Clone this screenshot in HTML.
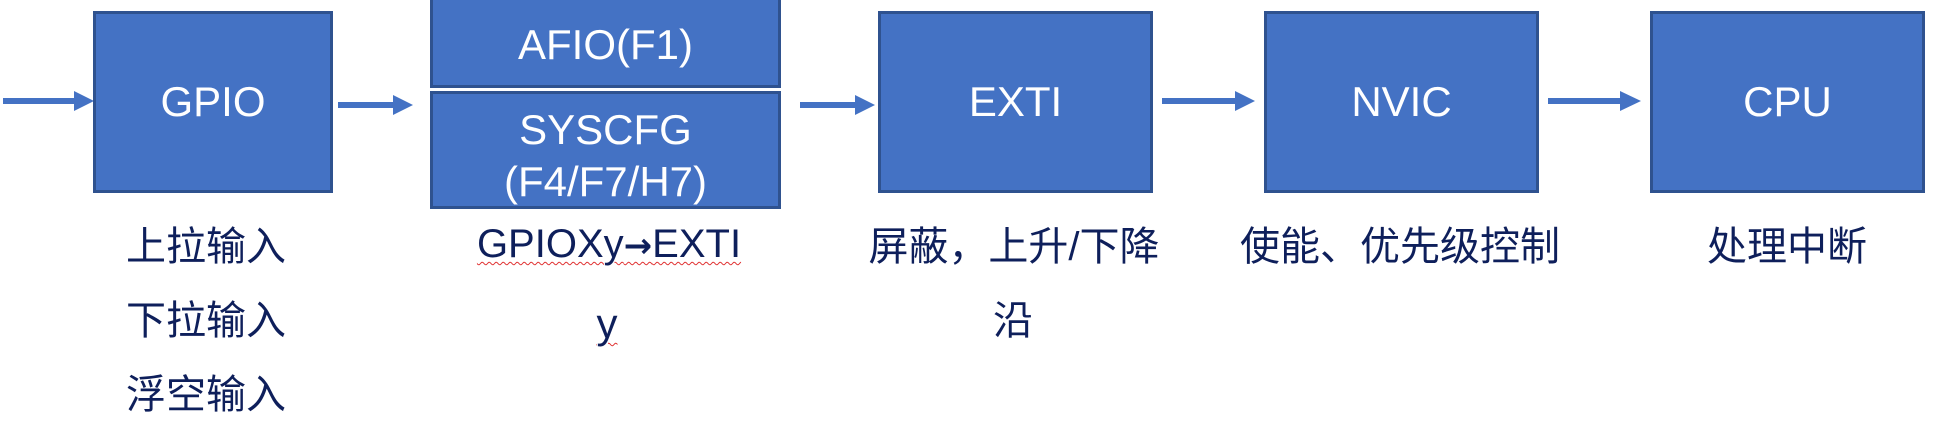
<!DOCTYPE html>
<html><head><meta charset="utf-8"><style>
body{margin:0;width:1944px;height:437px;background:#fff;position:relative;overflow:hidden;font-family:"Liberation Sans","Noto Sans CJK SC",sans-serif}
.b{position:absolute;background:#4472c4;border:3px solid #2f528f;box-sizing:border-box;color:#fff;display:flex;align-items:center;justify-content:center;text-align:center;font-size:42px;line-height:1.25}
.t{position:absolute;color:#0e1f5b;font-size:40px;line-height:1;white-space:nowrap;transform:translateX(-50%)}
.w{text-decoration:underline wavy #e03030;text-decoration-thickness:1px;text-underline-offset:4px}
</style></head><body>
<svg style="position:absolute;left:0;top:0" width="1944" height="437">
<g fill="#4472c4">
<rect x="3" y="98" width="72" height="6"/><polygon points="74,91 94,101 74,111"/>
<rect x="338" y="102" width="56" height="6"/><polygon points="393,95 413,105 393,115"/>
<rect x="800" y="102" width="56" height="6"/><polygon points="855,95 875,105 855,115"/>
<rect x="1162" y="98" width="74" height="6"/><polygon points="1235,91 1255,101 1235,111"/>
<rect x="1548" y="98" width="73" height="6"/><polygon points="1620,91 1641,101 1620,111"/>
</g></svg>
<div class="b" style="left:93px;top:11px;width:240px;height:182px">GPIO</div>
<div class="b" style="left:430px;top:-3px;width:351px;height:91px;padding-top:6px">AFIO(F1)</div>
<div class="b" style="left:430px;top:91px;width:351px;height:118px;padding-top:12px">SYSCFG<br>(F4/F7/H7)</div>
<div class="b" style="left:878px;top:11px;width:275px;height:182px">EXTI</div>
<div class="b" style="left:1264px;top:11px;width:275px;height:182px">NVIC</div>
<div class="b" style="left:1650px;top:11px;width:275px;height:182px">CPU</div>
<div class="t" style="left:206px;top:227px">上拉输入</div>
<div class="t" style="left:206px;top:301px">下拉输入</div>
<div class="t" style="left:206px;top:375px">浮空输入</div>
<div class="t w" style="left:609px;top:224px;font-size:40px">GPIOXy<span style="font-weight:bold;font-family:'DejaVu Sans',sans-serif;font-size:34px">→</span>EXTI</div>
<div class="t w" style="left:607px;top:303px;font-size:42px">y</div>
<div class="t" style="left:1014px;top:227px">屏蔽，上升/下降</div>
<div class="t" style="left:1013px;top:301px">沿</div>
<div class="t" style="left:1400px;top:227px">使能、优先级控制</div>
<div class="t" style="left:1787px;top:227px">处理中断</div>
</body></html>
